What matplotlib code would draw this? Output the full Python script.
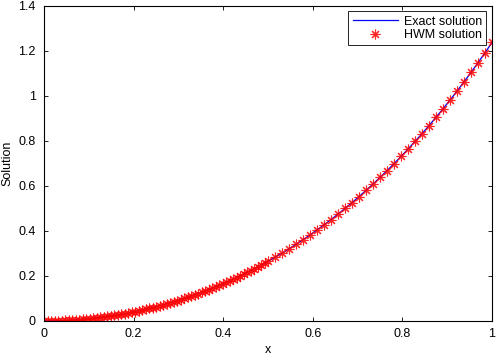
import numpy as np
import matplotlib
matplotlib.use('Agg')
import matplotlib.pyplot as plt

# collocation points (left half fine grid, right half coarse grid)
x_left = [0.0, 0.0078, 0.0156, 0.0234, 0.0313, 0.0391, 0.0469, 0.0547,
          0.0625, 0.0703, 0.0781, 0.0859, 0.0938, 0.1016, 0.1094, 0.1172,
          0.125, 0.1328, 0.1406, 0.1484, 0.1563, 0.1641, 0.1719, 0.1797,
          0.1875, 0.1953, 0.2031, 0.2109, 0.2188, 0.2266, 0.2344, 0.2422,
          0.25, 0.2578, 0.2656, 0.2734, 0.2813, 0.2891, 0.2969, 0.3047,
          0.3125, 0.3203, 0.3281, 0.3359, 0.3438, 0.3516, 0.3594, 0.3672,
          0.375, 0.3828, 0.3906, 0.3984, 0.4063, 0.4141, 0.4219, 0.4297,
          0.4375, 0.4453, 0.4531, 0.4609, 0.4688, 0.4766, 0.4844, 0.4922, 0.5]
y_left = [0.0, 0.0001, 0.0002, 0.0005, 0.0010, 0.0015, 0.0022, 0.0030,
          0.0039, 0.0049, 0.0061, 0.0074, 0.0088, 0.0103, 0.0120, 0.0138,
          0.0157, 0.0177, 0.0199, 0.0221, 0.0246, 0.0271, 0.0297, 0.0325,
          0.0354, 0.0385, 0.0417, 0.0450, 0.0484, 0.0520, 0.0556, 0.0595,
          0.0634, 0.0675, 0.0717, 0.0761, 0.0806, 0.0852, 0.0900, 0.0949,
          0.0999, 0.1051, 0.1104, 0.1159, 0.1215, 0.1272, 0.1331, 0.1391,
          0.1453, 0.1516, 0.1581, 0.1647, 0.1715, 0.1784, 0.1855, 0.1927,
          0.2001, 0.2076, 0.2153, 0.2231, 0.2311, 0.2393, 0.2476, 0.2561, 0.2648]
x_right = [0.5156, 0.5313, 0.5469, 0.5625, 0.5781, 0.5938, 0.6094, 0.625,
           0.6406, 0.6563, 0.6719, 0.6875, 0.7031, 0.7188, 0.7344, 0.75,
           0.7656, 0.7813, 0.7969, 0.8125, 0.8281, 0.8438, 0.8594, 0.875,
           0.8906, 0.9063, 0.9219, 0.9375, 0.9531, 0.9688, 0.9844, 1.0]
y_right = [0.2826, 0.3010, 0.3202, 0.3400, 0.3606, 0.3819, 0.4039, 0.4266,
           0.4501, 0.4744, 0.4995, 0.5254, 0.5521, 0.5796, 0.6079, 0.6372,
           0.6673, 0.6983, 0.7302, 0.7630, 0.7968, 0.8315, 0.8672, 0.9040,
           0.9417, 0.9805, 1.0203, 1.0612, 1.1032, 1.1463, 1.1906, 1.2360]

x_nodes = x_left + x_right
y_exact = y_left + y_right
y_hwm = y_left + y_right   # indistinguishable from exact at this scale

plt.rcParams['font.family'] = ['Liberation Sans', 'DejaVu Sans']
plt.rcParams['font.size'] = 9

fig = plt.figure(figsize=(4.98, 3.58), dpi=100)
ax = fig.add_axes([0.0884, 0.1034, 0.8996, 0.8812])

ax.plot(x_nodes, y_exact, color='blue', lw=0.9, label='Exact solution')
ax.plot(x_nodes, y_hwm, ls='none', marker=(8, 2, 0), ms=7, mew=0.8,
        color='red', alpha=0.85, label='HWM solution')

ax.set_xlim(0, 1)
ax.set_ylim(0, 1.4)
ax.set_xticks([0, 0.2, 0.4, 0.6, 0.8, 1])
ax.set_xticklabels(['0', '0.2', '0.4', '0.6', '0.8', '1'])
ax.set_yticks([0, 0.2, 0.4, 0.6, 0.8, 1, 1.2, 1.4])
ax.set_yticklabels(['0', '0.2', '0.4', '0.6', '0.8', '1', '1.2', '1.4'])
ax.tick_params(direction='in', top=True, right=True, length=3, width=0.6)
ax.tick_params(axis='x', pad=5)
ax.tick_params(axis='y', pad=6)
for s in ax.spines.values():
    s.set_linewidth(0.8)

ax.set_xlabel('x', labelpad=3)
ax.set_ylabel('Solution')
ax.yaxis.set_label_coords(-0.068, 0.5)

leg = ax.legend(loc='upper right', fancybox=False, framealpha=1, edgecolor='black',
                handlelength=3.6, labelspacing=0.12, borderaxespad=0.45,
                handletextpad=0.5, borderpad=0.35)
leg.get_frame().set_linewidth(0.6)

fig.savefig('out.png', dpi=100)
